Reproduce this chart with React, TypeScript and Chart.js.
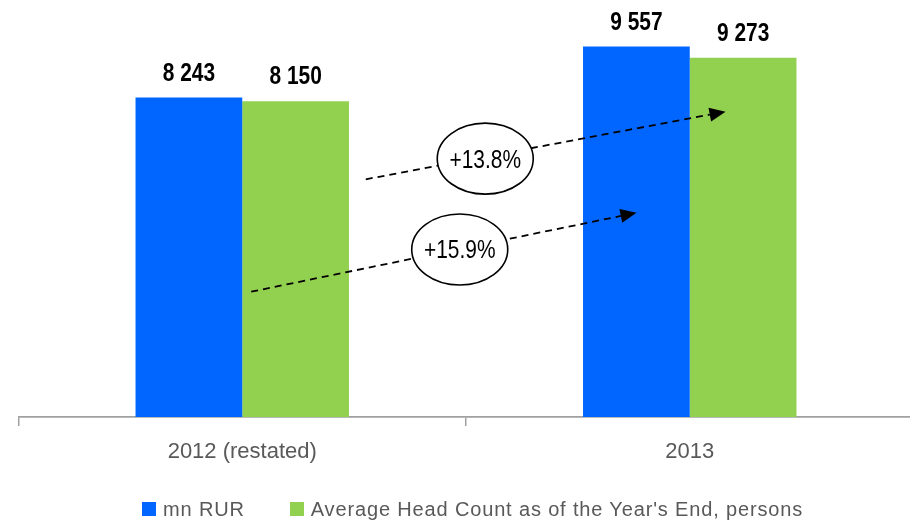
import React, { useEffect, useRef } from 'react';
import { Chart, registerables } from 'chart.js';

Chart.register(...registerables);

// ---- data ----
const categories = ['2012 (restated)', '2013'];
const seriesNames = ['mn RUR', "Average Head Count as of the Year's End, persons"];
const revenue = [8243, 9557];
const headCount = [8150, 9273];
const seriesColors = ['#0066FF', '#92D050'];
const yMax = 10760;

// growth annotations (x in category units, y in value units)
const growthLabels = ['+15.9%', '+13.8%'];
const arrowFromX = [0.02, 0.276];
const arrowFromY = [3234, 6134];
const arrowToX = [0.881, 1.08];
const arrowToY = [5270, 7879];
const bubbleX = [0.486, 0.543];
const bubbleY = [4323, 6666];

const SANS = '"Liberation Sans", Arial, sans-serif';
const NARROW_SCALE = 0.82;

const fmt = (v: number) => v.toLocaleString('en-US').replace(/,/g, ' ');

function narrowText(ctx: CanvasRenderingContext2D, text: string, x: number, y: number, font: string, baseline: CanvasTextBaseline) {
  ctx.save();
  ctx.translate(x, y);
  ctx.scale(NARROW_SCALE, 1);
  ctx.font = font;
  ctx.fillStyle = '#000';
  ctx.textAlign = 'center';
  ctx.textBaseline = baseline;
  ctx.fillText(text, 0, 0);
  ctx.restore();
}

const annotPlugin = {
  id: 'growthAnnotations',
  afterDatasetsDraw(chart: any) {
    const ctx: CanvasRenderingContext2D = chart.ctx;
    const xs = chart.scales.x;
    const ys = chart.scales.y;

    // value labels
    chart.data.datasets.forEach((ds: any, di: number) => {
      const meta = chart.getDatasetMeta(di);
      meta.data.forEach((bar: any, i: number) => {
        narrowText(ctx, fmt(ds.data[i]), bar.x, bar.y - 17, `bold 25.5px ${SANS}`, 'alphabetic');
      });
    });

    // arrows + bubbles
    for (let i = 0; i < growthLabels.length; i++) {
      const x1 = xs.getPixelForValue(arrowFromX[i]);
      const y1 = ys.getPixelForValue(arrowFromY[i]);
      const x2 = xs.getPixelForValue(arrowToX[i]);
      const y2 = ys.getPixelForValue(arrowToY[i]);
      const ang = Math.atan2(y2 - y1, x2 - x1);
      const headLen = 16;
      const headHalf = 7;
      const bx = x2 - headLen * Math.cos(ang);
      const by = y2 - headLen * Math.sin(ang);

      ctx.save();
      ctx.strokeStyle = '#000';
      ctx.lineWidth = 1.8;
      ctx.setLineDash([7, 5]);
      ctx.beginPath();
      ctx.moveTo(x1, y1);
      ctx.lineTo(bx, by);
      ctx.stroke();
      ctx.setLineDash([]);
      ctx.fillStyle = '#000';
      ctx.beginPath();
      ctx.moveTo(x2, y2);
      ctx.lineTo(bx + headHalf * Math.sin(ang), by - headHalf * Math.cos(ang));
      ctx.lineTo(bx - headHalf * Math.sin(ang), by + headHalf * Math.cos(ang));
      ctx.closePath();
      ctx.fill();

      const cx = xs.getPixelForValue(bubbleX[i]);
      const cy = ys.getPixelForValue(bubbleY[i]);
      ctx.beginPath();
      ctx.ellipse(cx, cy, 48, 35.5, 0, 0, Math.PI * 2);
      ctx.fillStyle = '#fff';
      ctx.fill();
      ctx.lineWidth = 1.6;
      ctx.strokeStyle = '#000';
      ctx.stroke();
      ctx.restore();

      narrowText(ctx, growthLabels[i], cx, cy + 2, `25.5px ${SANS}`, 'middle');
    }
  },
};

export default function App() {
  const canvasRef = useRef<HTMLCanvasElement | null>(null);

  useEffect(() => {
    if (!canvasRef.current) return;
    const chart = new Chart(canvasRef.current, {
      type: 'bar',
      data: {
        labels: categories,
        datasets: [
          { label: seriesNames[0], data: revenue, backgroundColor: seriesColors[0], borderWidth: 0 },
          { label: seriesNames[1], data: headCount, backgroundColor: seriesColors[1], borderWidth: 0 },
        ],
      },
      options: {
        responsive: false,
        animation: false,
        devicePixelRatio: 1,
        layout: { padding: { left: 18.5, right: 2.5, top: 0, bottom: 43.6 } },
        datasets: { bar: { barPercentage: 1, categoryPercentage: 0.477 } },
        plugins: {
          legend: { display: false },
          tooltip: { enabled: false },
        },
        scales: {
          x: {
            offset: true,
            grid: {
              offset: true,
              drawOnChartArea: false,
              drawTicks: true,
              tickLength: 9,
              color: '#a0a0a0',
              lineWidth: 1.5,
            },
            border: { display: true, color: '#a0a0a0', width: 1.8 },
            ticks: {
              padding: 13,
              color: '#595959',
              font: { family: SANS, size: 22 },
              maxRotation: 0,
            },
          },
          y: {
            display: false,
            min: 0,
            max: yMax,
          },
        },
      },
      plugins: [annotPlugin],
    });
    return () => chart.destroy();
  }, []);

  return (
    <div style={{ position: 'absolute', left: 0, top: 0, width: 910, height: 522, overflow: 'hidden', background: '#fff' }}>
      <canvas ref={canvasRef} width={916} height={522} style={{ display: 'block', width: 916, height: 522 }} />
      <div
        style={{
          position: 'absolute',
          left: 142,
          top: 500,
          height: 18,
          display: 'flex',
          alignItems: 'center',
          fontFamily: SANS,
          fontSize: 20,
          letterSpacing: '0.85px',
          color: '#595959',
          whiteSpace: 'nowrap',
        }}
      >
        {seriesNames.map((name, i) => (
          <div key={name} style={{ display: 'flex', alignItems: 'center', marginRight: i === 0 ? 45 : 0 }}>
            <span style={{ width: 14, height: 14, background: seriesColors[i], marginRight: 7, display: 'inline-block' }} />
            <span style={{ lineHeight: '18px' }}>{name}</span>
          </div>
        ))}
      </div>
    </div>
  );
}
